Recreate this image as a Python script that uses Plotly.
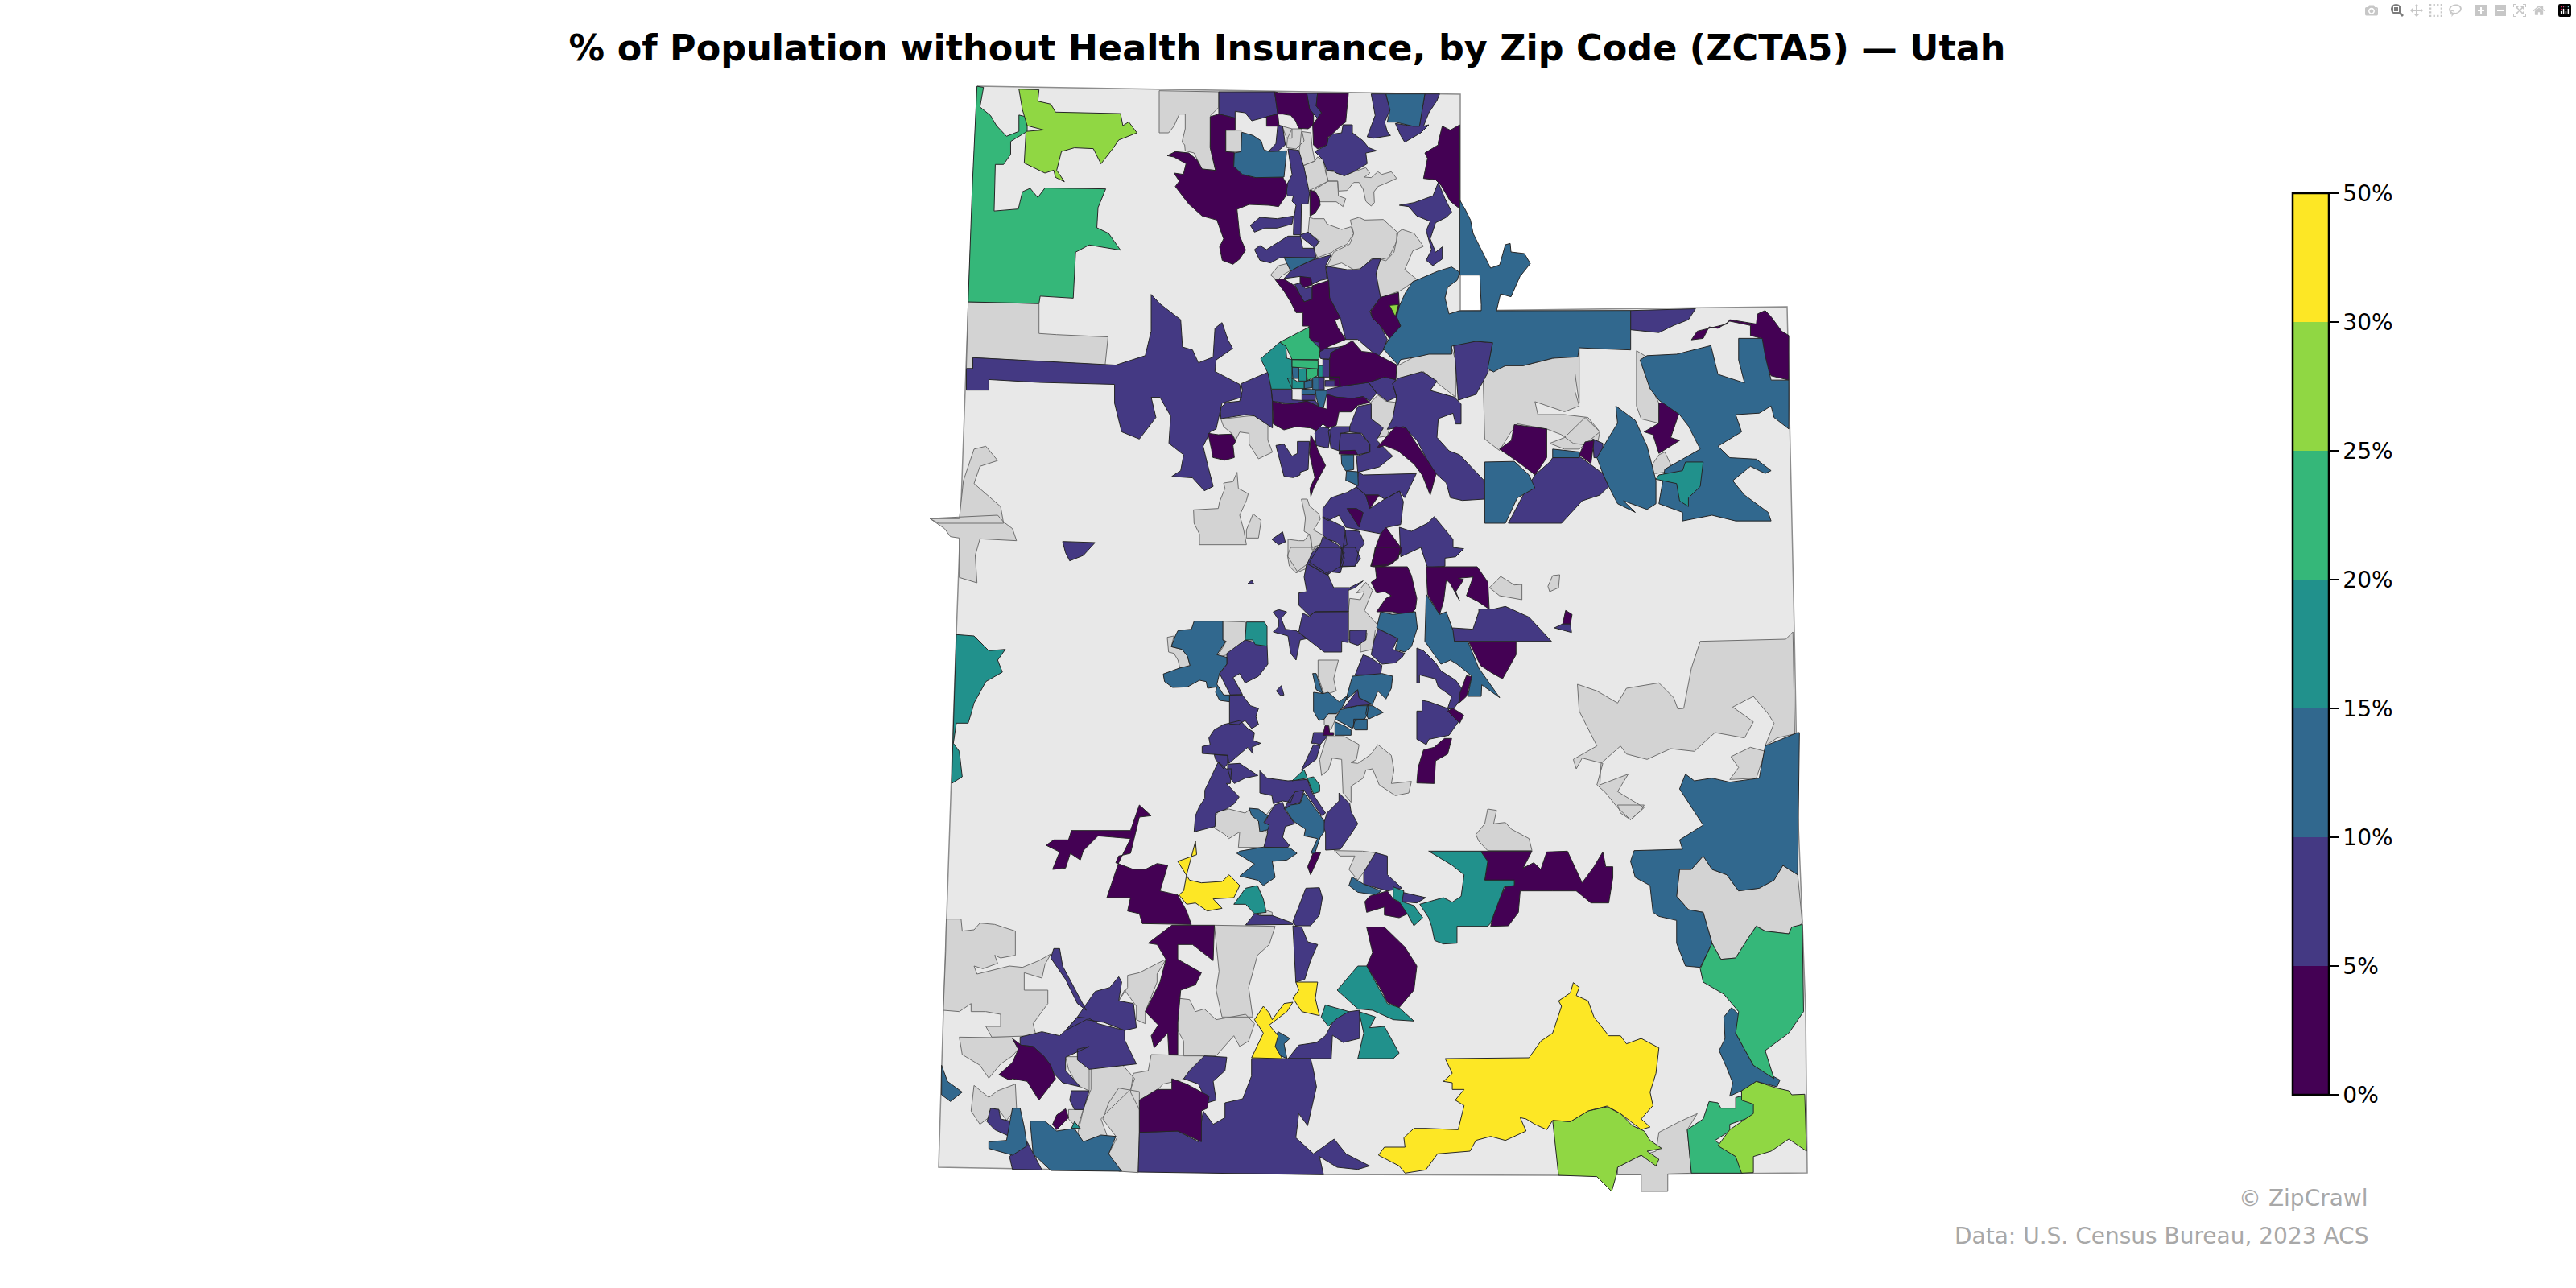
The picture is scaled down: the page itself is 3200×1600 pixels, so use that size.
import plotly.graph_objects as go

# class bands, tick labels and colours of the legend
band_labels = ["0%", "5%", "10%", "15%", "20%", "25%", "30%", "50%"]
band_colors = ["#440154", "#443983", "#31688e", "#21918c", "#35b779", "#90d743", "#fde725"]
NO_DATA = -1

title_text = "% of Population without Health Insurance, by Zip Code (ZCTA5) — Utah"
credit_text = "© ZipCrawl"
source_text = "Data: U.S. Census Bureau, 2023 ACS"

# state boundary, in map units
state_outline = [(1214, 107), (1814, 117), (1814, 386), (2220, 381), (2229, 785), (2233, 1000), (2239, 1147),
                 (2243, 1257), (2245, 1457), (1936, 1460), (1643, 1459), (1166, 1450), (1172, 1255), (1188, 788),
                 (1203, 375)]

# zones, sheet by sheet: (band, outline)
north_zones = [
    (4, [(155, 48), (166, 52), (160, 120), (178, 150), (188, 185), (205, 222), (226, 205), (226, 148), (240, 155), (240, 205), (212, 240), (212, 285), (200, 320), (186, 320), (184, 482), (225, 475), (232, 415), (245, 403), (258, 435), (270, 402), (373, 405), (360, 470), (358, 540), (378, 560), (398, 618), (345, 600), (322, 625), (318, 785), (262, 778), (260, 804), (140, 798), (147, 400)]),
    (5, [(226, 58), (260, 60), (258, 100), (280, 110), (288, 138), (398, 143), (402, 185), (412, 172), (426, 210), (395, 235), (385, 265), (365, 318), (352, 265), (320, 262), (298, 275), (290, 340), (303, 380), (288, 365), (285, 340), (270, 350), (235, 315), (238, 205), (268, 200), (240, 185), (232, 130)]),
    (NO_DATA, [(140, 798), (260, 804), (260, 908), (290, 912), (377, 920), (372, 1018), (148, 992), (148, 1030), (137, 1030)]),
    (1, [(1262, 828), (1372, 822), (1360, 860), (1335, 880), (1310, 905), (1262, 895)]),
    (0, [(1477, 840), (1490, 828), (1500, 850), (1518, 900), (1530, 915), (1530, 1070), (1500, 1055), (1485, 980), (1484, 925), (1465, 915), (1465, 880), (1430, 865), (1410, 890), (1395, 885), (1385, 925), (1365, 930), (1375, 900), (1425, 875), (1430, 860), (1475, 875)]),
    (2, [(1445, 925), (1485, 925), (1490, 985), (1500, 1070), (1530, 1070), (1530, 1240), (1505, 1200), (1500, 1160), (1480, 1185), (1440, 1190), (1450, 1250), (1410, 1300), (1430, 1340), (1475, 1345), (1500, 1385), (1490, 1395), (1465, 1370), (1435, 1420), (1455, 1470), (1495, 1530), (1500, 1560), (1440, 1560), (1400, 1540), (1350, 1560), (1350, 1530), (1310, 1500), (1320, 1380), (1380, 1310), (1360, 1230), (1345, 1190), (1310, 1140), (1295, 1100), (1278, 1000), (1290, 985), (1340, 980), (1398, 950), (1410, 1050), (1455, 1080), (1445, 1000)]),
    (NO_DATA, [(1012, 1045), (1050, 1020), (1080, 1020), (1130, 995), (1175, 958), (1175, 1150), (1168, 1050), (1168, 1110), (1175, 1160), (1150, 1180), (1100, 1145), (1105, 1190), (1150, 1190), (1190, 1200), (1210, 1250), (1205, 1300), (1165, 1290), (1145, 1260), (1120, 1240), (1070, 1222), (1058, 1255), (1040, 1315), (1015, 1275)]),
    (NO_DATA, [(1272, 968), (1290, 990), (1295, 1090), (1310, 1150), (1310, 1220), (1280, 1205), (1272, 1160)]),
    (1, [(962, 945), (1000, 935), (1028, 940), (1020, 1045), (1000, 1120), (970, 1140), (965, 1000)]),
    (1, [(137, 1105), (137, 1030), (148, 1030), (148, 992), (390, 1018), (440, 985), (450, 900), (450, 772), (465, 805), (500, 860), (503, 955), (520, 965), (530, 1010), (555, 990), (558, 890), (570, 870), (580, 930), (588, 960), (560, 1000), (558, 1040), (600, 1085), (603, 1130), (570, 1150), (565, 1200), (560, 1240), (550, 1250), (538, 1300), (545, 1360), (555, 1440), (540, 1455), (520, 1410), (485, 1405), (500, 1385), (505, 1330), (480, 1290), (483, 1195), (465, 1130), (450, 1130), (458, 1200), (430, 1275), (400, 1250), (388, 1150), (388, 1085), (260, 1078), (175, 1068), (175, 1105)]),
    (0, [(1065, 1225), (1120, 1240), (1120, 1340), (1100, 1400), (1075, 1360), (1040, 1310), (1060, 1280)]),
    (1, [(1130, 1340), (1175, 1335), (1215, 1395), (1225, 1440), (1210, 1470), (1180, 1490), (1145, 1568), (1055, 1568), (1080, 1470), (1100, 1400), (1125, 1355)]),
    (2, [(1015, 1355), (1065, 1353), (1090, 1400), (1100, 1445), (1070, 1480), (1050, 1568), (1015, 1568)]),
    (2, [(1237, 1160), (1270, 1210), (1290, 1300), (1305, 1420), (1305, 1500), (1290, 1520), (1250, 1490), (1270, 1530), (1240, 1500), (1225, 1440), (1215, 1395), (1205, 1340), (1225, 1270), (1240, 1220)]),
    (0, [(1310, 1150), (1330, 1145), (1345, 1180), (1330, 1270), (1345, 1280), (1310, 1325), (1300, 1260), (1285, 1250), (1310, 1220)]),
    (NO_DATA, [(1125, 1290), (1150, 1270), (1185, 1200), (1210, 1250), (1175, 1310), (1150, 1310)]),
    (2, [(1130, 1310), (1175, 1320), (1175, 1340), (1130, 1340)]),
    (0, [(1185, 1285), (1200, 1280), (1195, 1360), (1175, 1330)]),
    (1, [(1198, 1275), (1215, 1290), (1215, 1340), (1200, 1340)]),
    (NO_DATA, [(1290, 1390), (1310, 1330), (1320, 1320), (1335, 1385), (1305, 1395)]),
    (3, [(1355, 1355), (1385, 1355), (1380, 1440), (1360, 1480), (1360, 1510), (1345, 1490), (1340, 1430), (1305, 1415), (1310, 1400), (1350, 1385)]),
    (NO_DATA, [(75, 1552), (125, 1552), (132, 1420), (150, 1310), (170, 1300), (190, 1350), (160, 1370), (150, 1430), (195, 1510), (200, 1568), (90, 1568)]),
]

ogden_zones = [
    (NO_DATA, [(0, 38), (222, 42), (222, 100), (192, 130), (190, 250), (210, 335), (160, 330), (130, 270), (97, 262), (95, 240), (85, 230), (97, 180), (97, 125), (75, 125), (55, 170), (35, 195), (0, 195)]),
    (1, [(222, 42), (430, 42), (442, 125), (400, 135), (345, 150), (320, 120), (283, 115), (283, 140), (222, 125)]),
    (0, [(190, 135), (222, 125), (283, 140), (283, 185), (248, 185), (248, 265), (280, 268), (278, 320), (310, 350), (360, 362), (460, 360), (478, 390), (472, 430), (445, 470), (410, 465), (335, 462), (290, 480), (300, 580), (322, 632), (300, 665), (275, 685), (235, 670), (225, 620), (240, 590), (215, 520), (160, 505), (110, 460), (60, 395), (75, 375), (55, 345), (90, 350), (100, 310), (55, 285), (30, 280), (60, 265), (110, 270), (140, 295), (160, 330), (210, 335), (190, 250)]),
    (NO_DATA, [(248, 185), (305, 185), (305, 265), (248, 265)]),
    (2, [(308, 193), (350, 205), (380, 225), (390, 258), (410, 265), (475, 262), (465, 360), (360, 362), (310, 350), (278, 320), (280, 270), (305, 265)]),
    (0, [(400, 135), (442, 125), (447, 170), (400, 170)]),
    (0, [(430, 42), (445, 45), (550, 48), (560, 105), (575, 125), (575, 165), (555, 180), (520, 178), (508, 150), (490, 130), (460, 125), (442, 125)]),
    (1, [(550, 48), (590, 48), (585, 95), (605, 120), (590, 140), (575, 125), (560, 105)]),
    (0, [(590, 48), (705, 48), (695, 155), (680, 165), (640, 205), (630, 210), (625, 240), (590, 255), (575, 240), (572, 165), (590, 140), (605, 120), (585, 95)]),
    (1, [(442, 165), (460, 170), (470, 240), (440, 265), (410, 262), (435, 235)]),
    (NO_DATA, [(458, 170), (495, 180), (495, 215), (475, 215)]),
    (NO_DATA, [(495, 180), (530, 180), (540, 225), (510, 255), (475, 250), (478, 215)]),
    (NO_DATA, [(530, 190), (565, 195), (570, 250), (580, 300), (535, 318), (518, 285), (525, 240)]),
    (NO_DATA, [(535, 318), (580, 300), (590, 285), (610, 295), (620, 335), (630, 375), (550, 415), (540, 360)]),
    (NO_DATA, [(582, 405), (630, 375), (665, 375), (668, 430), (695, 440), (685, 470), (660, 452), (600, 452), (575, 410)]),
    (NO_DATA, [(618, 335), (650, 340), (690, 355), (725, 340), (770, 325), (785, 345), (765, 360), (790, 362), (815, 340), (830, 350), (865, 340), (885, 365), (840, 385), (815, 395), (800, 415), (802, 455), (790, 468), (770, 450), (760, 405), (745, 380), (725, 380), (700, 410), (668, 412), (665, 375), (630, 375)]),
    (1, [(685, 165), (720, 165), (720, 195), (760, 225), (780, 250), (810, 262), (770, 270), (775, 310), (725, 340), (690, 355), (660, 345), (650, 335), (625, 335), (610, 295), (580, 265), (625, 240), (630, 215), (645, 200), (680, 195)]),
    (NO_DATA, [(645, 278), (668, 275), (665, 335), (645, 320)]),
    (1, [(790, 50), (845, 50), (860, 110), (840, 155), (850, 190), (862, 205), (800, 215), (775, 210), (805, 130)]),
    (2, [(845, 50), (990, 50), (970, 170), (945, 170), (880, 155), (850, 155), (860, 110)]),
    (1, [(990, 50), (1045, 50), (1035, 75), (1005, 120), (985, 170), (1005, 165), (975, 195), (915, 230), (900, 205), (880, 160), (945, 170), (970, 170)]),
    (0, [(1120, 165), (1120, 478), (1085, 450), (1050, 390), (1030, 370), (985, 365), (1000, 290), (990, 270), (1040, 240), (1040, 230), (1055, 170), (1085, 185)]),
    (1, [(1040, 380), (1065, 440), (1090, 490), (1070, 510), (1030, 530), (1010, 590), (1030, 640), (1055, 620), (1055, 665), (1020, 690), (995, 670), (1015, 630), (995, 560), (1010, 525), (960, 505), (930, 470), (895, 465), (950, 455), (1020, 430)]),
    (1, [(480, 255), (520, 260), (540, 325), (560, 420), (555, 460), (530, 460), (528, 575), (555, 565), (595, 600), (578, 625), (535, 625), (525, 575), (500, 575), (502, 510), (510, 465), (495, 450), (500, 430), (478, 430), (470, 400), (495, 350), (490, 320)]),
    (1, [(400, 630), (375, 615), (355, 630), (375, 670), (415, 680), (450, 660), (465, 660), (585, 660), (575, 620), (525, 580), (480, 580)]),
    (0, [(562, 408), (582, 415), (597, 440), (600, 465), (580, 495), (562, 505)]),
    (1, [(340, 540), (375, 510), (440, 515), (500, 505), (495, 535), (440, 550), (395, 550), (355, 565)]),
    (NO_DATA, [(560, 510), (575, 515), (615, 515), (625, 535), (680, 555), (715, 545), (725, 570), (700, 610), (655, 630), (645, 640), (590, 660), (575, 625), (600, 600), (555, 565)]),
    (NO_DATA, [(712, 520), (745, 510), (765, 520), (835, 518), (890, 568), (875, 640), (845, 672), (820, 665), (790, 665), (755, 700), (725, 705), (680, 680), (625, 695), (650, 640), (710, 610), (725, 570)]),
    (NO_DATA, [(885, 570), (905, 555), (950, 570), (985, 618), (945, 635), (915, 705), (965, 745), (945, 750), (920, 770), (895, 785), (880, 790), (825, 810), (805, 720), (820, 668), (855, 660), (885, 600)]),
    (2, [(465, 658), (585, 662), (525, 690), (490, 710), (475, 680)]),
    (NO_DATA, [(415, 725), (445, 690), (485, 680), (490, 708), (460, 725), (440, 745)]),
    (1, [(465, 738), (490, 710), (525, 690), (575, 668), (640, 650), (620, 690), (625, 740), (600, 745), (565, 762), (530, 735), (525, 730)]),
    (0, [(525, 730), (565, 735), (570, 762), (540, 770), (525, 755)]),
    (0, [(432, 742), (465, 740), (505, 765), (520, 790), (540, 825), (570, 815), (570, 765), (632, 745), (635, 810), (675, 885), (655, 893), (665, 920), (695, 965), (635, 990), (600, 1010), (595, 975), (558, 968), (558, 915), (535, 915), (535, 865), (510, 865), (490, 825), (465, 785)]),
    (1, [(505, 760), (525, 755), (545, 775), (570, 770), (570, 815), (540, 825), (520, 790)]),
    (1, [(622, 692), (700, 705), (745, 705), (795, 665), (825, 665), (808, 720), (825, 810), (785, 860), (795, 885), (825, 915), (850, 965), (835, 1005), (815, 1030), (740, 965), (695, 965), (675, 885), (635, 810), (630, 745)]),
    (0, [(788, 860), (825, 808), (892, 790), (895, 840), (885, 880), (900, 915), (860, 965), (825, 915), (795, 885)]),
    (5, [(858, 838), (892, 835), (880, 880)]),
    (2, [(1120, 445), (1140, 480), (1160, 520), (1170, 570), (1195, 620), (1235, 699), (1269, 687), (1290, 612), (1308, 607), (1311, 639), (1361, 645), (1383, 682), (1344, 731), (1311, 806), (1272, 795), (1257, 858), (1757, 857), (1757, 1004), (1650, 1000), (1565, 996), (1560, 1030), (1466, 1035), (1356, 1063), (1290, 1063), (1246, 1086), (1224, 1074), (1243, 977), (1180, 972), (1090, 990), (1090, 1020), (1005, 1020), (960, 1030), (900, 1040), (890, 1060), (835, 1000), (855, 965), (900, 915), (885, 880), (895, 840), (918, 790), (945, 750), (1040, 710), (1090, 695), (1120, 715), (1110, 745), (1075, 770), (1065, 810), (1080, 870), (1118, 858), (1200, 858), (1200, 835), (1195, 725), (1120, 725)]),
    (NO_DATA, [(885, 1065), (950, 1030), (1015, 1015), (1090, 995), (1105, 1045), (1105, 1180), (1040, 1130), (985, 1085), (965, 1115), (915, 1105), (885, 1110)]),
]

salt_lake_zones = [
    (4, [(330, 285), (440, 228), (440, 270), (480, 310), (475, 350), (375, 350), (352, 300)]),
    (3, [(258, 347), (330, 285), (352, 300), (355, 345), (375, 350), (375, 460), (298, 460), (285, 400)]),
    (4, [(375, 350), (472, 352), (472, 385), (375, 378)]),
    (2, [(375, 378), (400, 378), (400, 420), (378, 420)]),
    (3, [(400, 385), (428, 385), (428, 430), (400, 430)]),
    (4, [(428, 385), (470, 385), (470, 410), (432, 428)]),
    (3, [(472, 372), (490, 372), (490, 415), (472, 415)]),
    (3, [(358, 420), (372, 418), (395, 432), (420, 432), (420, 458), (375, 458)]),
    (2, [(420, 432), (450, 425), (450, 455), (420, 458)]),
    (2, [(452, 415), (475, 415), (475, 462), (452, 462)]),
    (1, [(475, 415), (495, 415), (495, 462), (475, 462)]),
    (1, [(490, 348), (515, 350), (515, 415), (490, 415)]),
    (2, [(412, 460), (460, 462), (462, 480), (412, 480)]),
    (1, [(412, 480), (462, 482), (462, 502), (412, 502)]),
    (2, [(462, 465), (505, 465), (505, 475), (492, 530), (475, 525), (465, 490)]),
    (1, [(498, 428), (535, 428), (535, 450), (498, 450)]),
    (0, [(515, 415), (552, 415), (552, 450), (535, 450), (535, 425), (515, 425)]),
    (1, [(438, 228), (480, 235), (478, 278), (490, 305), (470, 312), (445, 280)]),
    (0, [(515, 350), (520, 325), (565, 300), (600, 280), (635, 320), (640, 320), (680, 325), (730, 350), (765, 370), (762, 425), (720, 415), (660, 435), (555, 450), (552, 415), (515, 415)]),
    (1, [(475, 310), (540, 305), (565, 300), (520, 325), (515, 348), (490, 348), (480, 345)]),
    (1, [(290, 395), (298, 460), (302, 505), (302, 605), (235, 560), (205, 555), (110, 570), (108, 530), (130, 510), (180, 505), (190, 465), (185, 440)]),
    (1, [(298, 462), (375, 462), (375, 500), (412, 502), (462, 502), (475, 525), (430, 505), (375, 515), (340, 510), (302, 505)]),
    (0, [(302, 505), (340, 515), (375, 515), (430, 505), (475, 525), (492, 530), (505, 535), (505, 480), (540, 490), (600, 495), (640, 488), (665, 510), (620, 520), (595, 545), (550, 545), (540, 595), (510, 605), (490, 590), (465, 615), (445, 605), (390, 600), (345, 612), (305, 590)]),
    (1, [(505, 462), (555, 450), (660, 435), (690, 475), (665, 505), (640, 488), (600, 495), (540, 490), (505, 480)]),
    (1, [(660, 435), (720, 415), (762, 425), (750, 440), (765, 490), (730, 505), (690, 475)]),
    (NO_DATA, [(668, 510), (695, 482), (725, 505), (765, 510), (750, 570), (730, 635), (695, 640), (672, 600)]),
    (1, [(770, 420), (860, 395), (915, 430), (890, 465), (980, 490), (1005, 515), (1005, 590), (985, 590), (975, 550), (920, 570), (915, 640), (960, 690), (1000, 705), (1090, 800), (1092, 870), (1010, 875), (965, 865), (950, 810), (900, 765), (840, 650), (790, 600), (730, 610), (750, 570), (765, 490), (750, 440)]),
    (0, [(690, 680), (760, 600), (800, 605), (850, 680), (912, 775), (890, 855), (860, 780), (830, 740), (770, 690), (720, 670)]),
    (1, [(620, 525), (670, 515), (670, 570), (715, 605), (690, 650), (750, 710), (700, 750), (620, 770), (615, 710), (665, 695), (665, 665), (635, 625), (590, 620), (590, 600)]),
    (1, [(530, 600), (590, 600), (590, 620), (555, 625), (550, 690), (520, 680), (510, 615)]),
    (1, [(470, 600), (510, 605), (520, 620), (510, 680), (465, 670), (460, 625)]),
    (1, [(555, 625), (630, 625), (665, 665), (665, 695), (620, 705), (550, 690)]),
    (0, [(552, 690), (610, 688), (620, 705), (550, 702)]),
    (2, [(558, 705), (605, 705), (605, 760), (575, 765), (560, 740)]),
    (2, [(578, 765), (620, 768), (622, 820), (590, 805), (575, 800)]),
    (1, [(622, 770), (640, 780), (838, 775), (795, 865), (775, 840), (720, 870), (695, 855), (650, 855), (615, 825)]),
    (0, [(650, 855), (700, 855), (665, 905)]),
    (1, [(520, 865), (580, 845), (615, 825), (650, 855), (665, 905), (720, 870), (775, 840), (790, 880), (780, 965), (730, 975), (710, 1000), (625, 985), (575, 975), (550, 930), (510, 950), (490, 940), (490, 905)]),
    (0, [(580, 905), (615, 905), (640, 920), (625, 975)]),
    (1, [(905, 935), (945, 985), (975, 1020), (975, 1050), (1015, 1055), (985, 1085), (945, 1090), (945, 1120), (880, 1125), (855, 1050), (780, 1085), (775, 975), (820, 990), (880, 960)]),
    (0, [(725, 975), (780, 1050), (770, 1095), (725, 1115), (670, 1120), (690, 1040), (705, 1000)]),
    (1, [(490, 935), (570, 975), (580, 1040), (560, 1050), (540, 1030), (510, 1020), (490, 1005)]),
    (1, [(490, 1010), (510, 1020), (545, 1040), (570, 1070), (555, 1120), (510, 1150), (440, 1105), (480, 1040)]),
    (1, [(575, 985), (625, 990), (645, 1035), (625, 1060), (610, 1120), (555, 1120)]),
    (NO_DATA, [(360, 1020), (400, 1025), (420, 1025), (440, 1000), (450, 1050), (480, 1040), (440, 1105), (395, 1140), (360, 1085)]),
    (NO_DATA, [(410, 870), (432, 870), (440, 895), (475, 925), (480, 945), (455, 985), (510, 1015), (450, 1060), (445, 1005), (420, 990), (425, 940)]),
    (NO_DATA, [(8, 910), (100, 905), (105, 880), (125, 830), (120, 810), (155, 805), (170, 770), (175, 830), (212, 850), (205, 875), (180, 930), (195, 985), (205, 1040), (30, 1040), (30, 1000), (10, 960)]),
    (NO_DATA, [(205, 985), (230, 925), (260, 950), (250, 1015), (205, 1015)]),
    (1, [(300, 1020), (340, 992), (350, 1030), (325, 1040)]),
    (1, [(315, 670), (345, 665), (375, 710), (395, 700), (395, 655), (440, 655), (435, 760), (405, 770), (405, 780), (380, 790), (345, 785), (330, 730)]),
    (0, [(445, 630), (465, 670), (472, 690), (500, 745), (470, 800), (455, 830), (445, 860), (442, 830), (460, 790), (445, 720), (440, 700)]),
    (0, [(62, 625), (100, 630), (150, 628), (165, 655), (155, 670), (160, 715), (125, 725), (80, 715), (75, 685)]),
    (NO_DATA, [(110, 572), (215, 560), (235, 560), (285, 590), (285, 650), (302, 695), (250, 720), (215, 665), (215, 625), (180, 620), (165, 650), (150, 625), (120, 600)]),
]

sevier_zones = [
    (1, [(670, 60), (750, 105), (770, 150), (830, 150), (880, 125), (850, 150), (825, 160), (825, 240), (700, 240), (680, 255), (660, 235), (640, 215), (640, 170), (670, 165), (660, 110)]),
    (1, [(700, 240), (825, 238), (825, 355), (800, 350), (800, 390), (735, 390), (670, 340), (640, 315), (655, 245), (680, 258)]),
    (1, [(545, 240), (565, 232), (595, 240), (575, 265), (590, 305), (630, 310), (670, 340), (645, 345), (630, 420), (610, 395), (600, 330), (545, 315), (565, 295), (565, 270)]),
    (1, [(710, 0), (800, 0), (810, 40), (795, 95), (750, 90), (750, 105), (672, 60), (690, 20)]),
    (1, [(800, 0), (850, 0), (870, 40), (850, 70), (795, 72)]),
    (NO_DATA, [(610, 0), (700, 0), (665, 80), (630, 95), (605, 70), (598, 30)]),
    (0, [(925, 0), (1025, 0), (1020, 20), (990, 60), (965, 70), (920, 72), (908, 70), (920, 30)]),
    (0, [(925, 72), (1045, 72), (1060, 105), (1080, 190), (1075, 230), (1050, 255), (990, 240), (930, 240), (965, 190), (985, 180), (960, 165), (930, 170), (910, 130), (930, 115)]),
    (NO_DATA, [(830, 190), (870, 195), (885, 165), (855, 170), (890, 130), (915, 160), (905, 185), (885, 235), (935, 290), (945, 295), (925, 310), (915, 380), (870, 390), (870, 350), (890, 345), (895, 320), (825, 345), (825, 240)]),
    (1, [(830, 310), (892, 308), (890, 345), (860, 365), (830, 355)]),
    (2, [(945, 240), (990, 250), (1075, 240), (1082, 300), (1060, 370), (1035, 390), (1000, 380), (1010, 340), (930, 300)]),
    (1, [(935, 305), (1010, 335), (990, 380), (1035, 395), (1025, 410), (1000, 430), (950, 435), (910, 400), (920, 350)]),
    (1, [(880, 400), (905, 410), (950, 440), (945, 475), (850, 475)]),
    (2, [(840, 480), (950, 470), (990, 480), (985, 525), (965, 565), (935, 535), (915, 585), (865, 560), (860, 530), (815, 570)]),
    (2, [(915, 590), (955, 615), (900, 640), (890, 620), (895, 590)]),
    (2, [(695, 540), (730, 545), (750, 540), (790, 575), (825, 550), (800, 600), (780, 620), (750, 620), (735, 640), (715, 645), (695, 610)]),
    (2, [(692, 470), (705, 470), (730, 545), (705, 530)]),
    (NO_DATA, [(712, 420), (788, 420), (770, 490), (780, 535), (735, 550), (712, 480)]),
    (1, [(815, 590), (860, 530), (865, 560), (915, 585), (860, 590), (800, 600)]),
    (2, [(795, 605), (860, 590), (900, 590), (895, 625), (885, 640), (850, 645), (840, 675), (815, 660), (775, 640)]),
    (2, [(845, 640), (895, 640), (895, 680), (850, 680), (845, 670)]),
    (2, [(775, 650), (810, 665), (835, 680), (835, 700), (775, 700)]),
    (NO_DATA, [(735, 625), (750, 620), (785, 620), (760, 680), (735, 660)]),
    (0, [(738, 665), (752, 665), (755, 690), (770, 690), (770, 700), (730, 700)]),
    (1, [(695, 690), (732, 690), (745, 705), (720, 735), (700, 730), (688, 730)]),
    (1, [(695, 735), (720, 740), (705, 790), (670, 815), (650, 830)]),
    (3, [(615, 870), (660, 828), (672, 860), (695, 855), (718, 885), (718, 910), (695, 918), (672, 860)]),
    (1, [(495, 832), (522, 860), (600, 870), (672, 865), (690, 915), (740, 990), (725, 1000), (660, 905), (625, 910), (610, 950), (580, 945), (545, 955), (540, 925), (495, 915)]),
    (2, [(660, 915), (735, 1020), (735, 1060), (720, 1080), (700, 1140), (685, 1140), (710, 1085), (660, 1075), (665, 1050), (620, 1020), (590, 975), (610, 960), (645, 955)]),
    (1, [(628, 910), (660, 905), (645, 950), (610, 962), (585, 975), (605, 940)]),
    (1, [(790, 915), (830, 955), (835, 985), (860, 1030), (830, 1075), (795, 1125), (740, 1128), (740, 1060), (730, 1040), (745, 990), (790, 945)]),
    (1, [(550, 960), (580, 950), (590, 980), (625, 1030), (590, 1040), (580, 1080), (605, 1110), (600, 1118), (510, 1118), (525, 1060), (510, 1030)]),
    (2, [(455, 972), (490, 975), (525, 1000), (510, 1025), (530, 1035), (525, 1052), (495, 1060), (490, 1020), (465, 1000)]),
    (NO_DATA, [(340, 985), (380, 975), (440, 990), (460, 975), (500, 1020), (525, 1070), (510, 1118), (415, 1118), (420, 1060), (380, 1085), (365, 1070), (325, 1045), (330, 1000)]),
    (NO_DATA, [(545, 965), (555, 975), (530, 1000), (520, 995)]),
    (1, [(340, 800), (370, 825), (390, 825), (385, 880), (370, 880), (418, 930), (400, 955), (370, 975), (330, 990), (328, 1040), (250, 1060), (255, 1000), (270, 965), (290, 935), (290, 905)]),
    (1, [(375, 808), (420, 805), (488, 850), (440, 860), (400, 880), (385, 860), (375, 825)]),
    (1, [(325, 772), (375, 775), (375, 805), (360, 825), (330, 790)]),
    (1, [(360, 660), (422, 645), (450, 675), (475, 690), (470, 720), (498, 730), (465, 745), (470, 770), (450, 745), (380, 805), (375, 775), (280, 768), (280, 742), (310, 735), (305, 710), (325, 680)]),
    (1, [(382, 550), (430, 550), (460, 590), (490, 600), (480, 630), (490, 660), (465, 675), (440, 645), (415, 660), (382, 658)]),
    (1, [(372, 395), (440, 345), (522, 365), (525, 435), (490, 480), (440, 505), (420, 470), (395, 485), (415, 520), (430, 548), (385, 550), (345, 470), (372, 435)]),
    (3, [(445, 278), (512, 278), (522, 295), (522, 368), (478, 362), (468, 345), (440, 345)]),
    (NO_DATA, [(357, 275), (442, 278), (440, 345), (415, 385), (405, 418), (395, 395), (335, 410), (370, 350), (357, 345)]),
    (2, [(250, 275), (357, 275), (357, 345), (368, 350), (335, 400), (372, 410), (372, 435), (345, 468), (335, 510), (360, 550), (382, 550), (382, 575), (345, 570), (330, 540), (335, 520), (300, 525), (295, 500), (270, 495), (225, 520), (190, 522), (170, 522), (140, 500), (135, 472), (195, 450), (235, 440), (225, 405), (205, 380), (165, 370), (180, 330), (190, 310), (240, 305)]),
    (NO_DATA, [(150, 335), (175, 330), (165, 370), (205, 380), (225, 405), (235, 440), (225, 462), (200, 462), (190, 420), (175, 395), (155, 390)]),
    (1, [(556, 535), (575, 515), (585, 550), (572, 552)]),
    (1, [(1080, 375), (1105, 385), (1150, 430), (1170, 460), (1225, 495), (1250, 530), (1240, 570), (1215, 605), (1195, 600), (1210, 555), (1160, 520), (1150, 490), (1090, 475), (1090, 505), (1080, 505)]),
    (0, [(1265, 478), (1285, 482), (1265, 555), (1240, 578), (1240, 545)]),
    (1, [(1100, 570), (1125, 575), (1195, 600), (1235, 650), (1200, 700), (1125, 715), (1115, 735), (1080, 715), (1080, 610), (1100, 610)]),
    (0, [(1195, 610), (1215, 600), (1255, 625), (1240, 655)]),
    (0, [(1183, 712), (1210, 712), (1195, 770), (1150, 795), (1145, 880), (1080, 878), (1085, 820), (1105, 755), (1145, 745)]),
    (1, [(450, 135), (465, 122), (472, 135)]),
    (NO_DATA, [(745, 705), (810, 705), (865, 735), (855, 790), (835, 802), (860, 805), (890, 785), (910, 770), (935, 735), (985, 775), (995, 830), (985, 880), (1060, 872), (1050, 915), (1000, 925), (940, 885), (915, 825), (890, 830), (880, 860), (835, 890), (835, 950), (805, 915), (800, 790), (765, 785), (750, 830), (725, 850), (718, 790)]),
    (2, [(1115, 175), (1165, 250), (1190, 240), (1215, 310), (1220, 350), (1270, 350), (1311, 450), (1389, 560), (1322, 512), (1320, 555), (1270, 555), (1285, 480), (1230, 435), (1205, 420), (1170, 435), (1110, 350)]),
    (0, [(1115, 72), (1305, 72), (1345, 130), (1350, 230), (1305, 200), (1265, 180), (1290, 110), (1235, 115), (1255, 120), (1225, 165), (1240, 200), (1205, 135), (1190, 120), (1180, 200), (1165, 250), (1120, 175)]),
]

middle_zones = [
    (NO_DATA, [(75, 12), (190, 0), (200, 25), (215, 50), (222, 95), (160, 88), (152, 150), (155, 252), (125, 232), (125, 85), (110, 80), (100, 50)]),
    (1, [(300, 98), (355, 102), (335, 150), (312, 170), (305, 140)]),
    (1, [(1005, 350), (1030, 350), (1050, 340), (1090, 380), (1128, 470), (963, 470), (960, 420), (995, 425), (1005, 360)]),
    (0, [(988, 472), (1068, 472), (1068, 520), (1045, 610), (1025, 585), (1008, 560)]),
    (NO_DATA, [(1023, 270), (1042, 228), (1065, 260), (1078, 258), (1078, 315), (1040, 300)]),
    (NO_DATA, [(1130, 225), (1142, 222), (1140, 270), (1125, 285), (1122, 265)]),
    (0, [(1152, 355), (1163, 370), (1160, 405), (1147, 405)]),
    (1, [(1147, 405), (1160, 405), (1162, 437), (1133, 420)]),
    (3, [(120, 445), (150, 450), (175, 505), (203, 500), (190, 540), (198, 585), (170, 620), (150, 700), (145, 740), (140, 775), (120, 775), (115, 850), (125, 880), (130, 975), (112, 1000)]),
    (NO_DATA, [(1172, 630), (1205, 655), (1240, 700), (1255, 645), (1310, 625), (1335, 680), (1342, 722), (1352, 720), (1365, 570), (1380, 470), (1525, 462), (1537, 435), (1540, 815), (1510, 830), (1490, 860), (1505, 775), (1495, 740), (1470, 675), (1435, 715), (1470, 770), (1455, 830), (1405, 810), (1370, 880), (1330, 870), (1290, 910), (1255, 890), (1245, 860), (1212, 925), (1210, 1005), (1258, 965), (1240, 1030), (1285, 1090), (1262, 1135), (1240, 1090), (1220, 1035), (1205, 1005), (1215, 925), (1180, 905), (1170, 945), (1165, 910), (1205, 860), (1175, 730)]),
    (NO_DATA, [(1432, 900), (1465, 865), (1490, 880), (1475, 980), (1430, 985), (1445, 940)]),
]

south_zones = [
    (0, [(430, 0), (450, 40), (430, 45), (415, 180), (395, 190), (390, 215), (420, 240), (440, 240), (460, 218), (478, 225), (465, 320), (495, 335), (510, 395), (518, 445), (435, 442), (430, 405), (410, 395), (415, 345), (375, 345), (395, 215), (415, 125), (360, 115), (335, 170), (330, 205), (313, 180), (305, 235), (283, 240), (295, 175), (272, 150), (285, 130), (310, 130), (315, 95), (415, 95)]),
    (6, [(525, 135), (527, 185), (495, 210), (515, 280), (535, 290), (570, 285), (582, 260), (600, 300), (590, 345), (555, 350), (570, 385), (545, 395), (525, 365), (510, 370), (497, 335), (505, 320), (510, 260)]),
    (2, [(600, 172), (640, 157), (685, 160), (697, 180), (680, 205), (655, 210), (660, 270), (640, 300), (630, 280), (600, 265), (625, 220), (595, 180)]),
    (3, [(630, 300), (640, 350), (645, 400), (625, 405), (610, 370), (590, 370), (610, 310)]),
    (0, [(725, 175), (737, 178), (720, 260), (715, 230)]),
    (NO_DATA, [(635, 385), (655, 400), (655, 412), (635, 412)]),
    (1, [(625, 405), (635, 412), (655, 412), (690, 440), (690, 445), (610, 447)]),
    (1, [(712, 310), (735, 308), (740, 345), (735, 410), (720, 450), (695, 450), (690, 435), (700, 380)]),
    (NO_DATA, [(760, 170), (808, 172), (830, 178), (830, 240), (810, 250), (800, 280), (785, 240), (795, 190), (770, 190)]),
    (1, [(830, 178), (850, 190), (850, 260), (875, 310), (850, 320), (810, 295), (810, 250)]),
    (2, [(790, 268), (810, 295), (840, 320), (830, 335), (800, 325), (785, 300)]),
    (3, [(860, 305), (878, 320), (875, 360), (895, 375), (910, 420), (895, 450), (885, 410), (870, 360), (860, 350)]),
    (1, [(875, 325), (915, 345), (900, 365), (875, 360)]),
    (0, [(820, 340), (850, 320), (860, 350), (880, 375), (890, 400), (870, 420), (845, 410), (845, 380), (815, 400), (812, 360)]),
    (3, [(920, 172), (1008, 172), (1020, 210), (1015, 280), (1065, 280), (1065, 300), (1048, 305), (1025, 440), (1020, 452), (968, 452), (968, 515), (945, 518), (930, 505), (925, 452), (920, 420), (905, 370), (945, 345), (960, 362), (975, 340), (980, 260), (960, 225)]),
    (0, [(1008, 172), (1095, 172), (1080, 235), (1098, 215), (1110, 240), (1120, 175), (1155, 172), (1170, 240), (1180, 290), (1200, 230), (1215, 175), (1220, 230), (1232, 230), (1232, 270), (1225, 365), (1195, 365), (1170, 320), (1130, 320), (1075, 320), (1072, 400), (1055, 450), (1025, 452), (1035, 370), (1050, 305), (1065, 295), (1065, 280), (1015, 280), (1020, 210)]),
    (NO_DATA, [(1020, 15), (1035, 20), (1030, 70), (1050, 65), (1060, 90), (1090, 125), (1095, 170), (1020, 170), (1005, 135), (1000, 110), (1015, 70)]),
    (NO_DATA, [(1240, 0), (1285, 0), (1280, 20), (1262, 55), (1245, 30)]),
    (2, [(1545, -270), (1490, -220), (1480, -100), (1430, -85), (1400, -100), (1370, -90), (1355, -115), (1345, -60), (1385, 75), (1345, 130), (1350, 165), (1268, 170), (1262, 210), (1270, 270), (1295, 300), (1300, 400), (1310, 415), (1340, 430), (1340, 515), (1355, 600), (1380, 605), (1400, 515), (1385, 400), (1360, 390), (1340, 340), (1345, 240), (1365, 240), (1385, 190), (1400, 240), (1425, 260), (1445, 320), (1480, 310), (1505, 280), (1520, 225), (1545, 260), (1548, -270)]),
    (NO_DATA, [(1385, 190), (1400, 240), (1425, 260), (1445, 320), (1480, 310), (1505, 280), (1520, 225), (1545, 260), (1553, 440), (1530, 480), (1490, 470), (1475, 450), (1460, 500), (1440, 570), (1415, 575), (1400, 515), (1385, 400), (1360, 390), (1340, 340), (1345, 240), (1365, 240)]),
    (4, [(1475, 452), (1490, 470), (1530, 480), (1535, 455), (1553, 445), (1555, 770), (1530, 850), (1490, 915), (1505, 1020), (1470, 970), (1460, 930), (1440, 850), (1445, 770), (1420, 705), (1385, 660), (1380, 610), (1400, 515), (1415, 575), (1440, 570), (1460, 500)]),
    (2, [(1433, 755), (1450, 790), (1440, 850), (1460, 930), (1470, 970), (1515, 1025), (1510, 1050), (1475, 1030), (1455, 1060), (1430, 1085), (1435, 1035), (1425, 980), (1412, 915), (1422, 870), (1420, 790)]),
    (5, [(1475, 1030), (1510, 1055), (1530, 1065), (1535, 1080), (1557, 1078), (1560, 1290), (1530, 1245), (1500, 1290), (1470, 1310), (1470, 1370), (1450, 1372), (1440, 1310), (1410, 1270), (1430, 1210), (1470, 1150), (1470, 1115), (1450, 1100), (1450, 1065)]),
    (4, [(1395, 1105), (1410, 1110), (1415, 1130), (1440, 1130), (1440, 1090), (1450, 1085), (1475, 1115), (1470, 1160), (1430, 1190), (1430, 1215), (1405, 1250), (1440, 1310), (1452, 1372), (1365, 1372), (1358, 1210), (1385, 1170)]),
    (NO_DATA, [(1375, 1150), (1358, 1210), (1365, 1372), (1325, 1375), (1325, 1440), (1280, 1440), (1280, 1378), (1240, 1378), (1240, 1350), (1275, 1310), (1305, 1290), (1310, 1220), (1345, 1180)]),
    (5, [(1130, 1175), (1160, 1180), (1190, 1140), (1222, 1125), (1245, 1150), (1265, 1195), (1285, 1215), (1295, 1250), (1315, 1280), (1290, 1290), (1310, 1320), (1305, 1345), (1280, 1305), (1240, 1350), (1238, 1378), (1230, 1440), (1205, 1385), (1140, 1380)]),
    (6, [(1165, 662), (1175, 680), (1170, 710), (1190, 730), (1200, 790), (1225, 860), (1245, 860), (1255, 890), (1280, 870), (1310, 905), (1305, 1000), (1295, 1070), (1300, 1120), (1280, 1170), (1295, 1200), (1280, 1210), (1245, 1150), (1222, 1122), (1190, 1140), (1160, 1180), (1130, 1175), (1120, 1210), (1100, 1190), (1085, 1170), (1075, 1165), (1085, 1215), (1050, 1250), (1025, 1235), (1000, 1250), (990, 1290), (935, 1300), (915, 1360), (880, 1372), (870, 1345), (835, 1305), (845, 1275), (880, 1275), (878, 1240), (895, 1205), (915, 1205), (970, 1210), (980, 1120), (965, 1100), (980, 1060), (960, 1060), (960, 1035), (945, 1030), (960, 1000), (948, 945), (1090, 942), (1110, 880), (1130, 850), (1145, 750), (1140, 730), (1160, 700)]),
    (0, [(815, 455), (845, 455), (880, 530), (900, 600), (895, 690), (870, 755), (850, 735), (840, 690), (815, 600), (825, 550)]),
    (3, [(800, 600), (815, 600), (850, 740), (870, 755), (895, 805), (860, 800), (825, 765), (800, 760), (765, 690)]),
    (3, [(802, 770), (830, 790), (820, 830), (845, 825), (870, 925), (860, 945), (800, 945), (810, 850)]),
    (3, [(745, 745), (785, 770), (765, 795), (750, 825), (738, 790)]),
    (1, [(770, 775), (803, 765), (803, 870), (775, 885), (757, 858), (755, 945), (682, 945), (700, 895), (730, 885), (745, 860), (760, 800)]),
    (6, [(695, 660), (732, 660), (728, 720), (735, 785), (705, 770), (690, 720), (700, 690)]),
    (6, [(640, 750), (650, 775), (655, 800), (675, 740), (690, 735), (680, 770), (650, 820), (665, 860), (660, 900), (672, 945), (620, 942), (640, 850), (625, 800)]),
    (2, [(665, 845), (685, 870), (675, 890), (680, 945), (665, 930), (655, 885)]),
    (1, [(690, 450), (705, 455), (715, 510), (732, 520), (720, 580), (710, 650), (695, 660)]),
    (0, [(485, 448), (557, 448), (555, 580), (520, 520), (495, 520), (495, 575), (535, 625), (525, 670), (500, 690), (495, 810), (495, 930), (480, 930), (478, 850), (455, 905), (450, 860), (462, 820), (440, 770), (465, 660), (475, 575), (460, 520), (445, 515)]),
    (NO_DATA, [(557, 448), (660, 452), (650, 520), (630, 560), (615, 680), (622, 790), (570, 790), (560, 690), (565, 620)]),
    (NO_DATA, [(495, 720), (515, 725), (525, 770), (540, 760), (560, 800), (610, 780), (625, 815), (615, 880), (600, 900), (590, 860), (560, 935), (505, 935), (505, 880), (495, 840)]),
    (NO_DATA, [(450, 930), (540, 935), (530, 970), (510, 1020), (470, 1040), (430, 1135), (415, 1070), (420, 1000), (445, 990)]),
    (NO_DATA, [(410, 635), (430, 625), (470, 580), (475, 575), (460, 630), (460, 660), (440, 770), (440, 815), (425, 800), (425, 750), (405, 690), (395, 730), (410, 680)]),
    (1, [(380, 680), (395, 640), (400, 660), (395, 730), (420, 740), (425, 830), (405, 840), (370, 810), (340, 800), (305, 840), (325, 790), (355, 695)]),
    (1, [(285, 535), (295, 535), (300, 600), (340, 765), (325, 740), (305, 650), (280, 570)]),
    (NO_DATA, [(103, 425), (128, 425), (130, 470), (150, 465), (160, 440), (185, 445), (220, 470), (220, 560), (195, 570), (185, 560), (190, 590), (165, 610), (150, 600), (155, 630), (210, 600), (232, 605), (260, 580), (280, 555), (270, 595), (265, 645), (235, 625), (235, 690), (275, 690), (275, 740), (250, 815), (255, 860), (180, 865), (170, 825), (195, 825), (195, 780), (170, 770), (145, 770), (145, 740), (125, 770), (98, 765), (102, 545)]),
    (NO_DATA, [(125, 865), (215, 868), (225, 910), (215, 935), (195, 965), (175, 1018), (160, 970), (130, 930)]),
    (0, [(215, 870), (230, 895), (250, 900), (268, 935), (280, 970), (288, 1020), (260, 1100), (240, 1030), (215, 1020), (210, 1025), (192, 1005), (215, 960), (225, 910)]),
    (1, [(228, 865), (265, 845), (295, 860), (305, 840), (325, 790), (345, 795), (360, 815), (405, 840), (405, 875), (425, 965), (345, 985), (325, 950), (325, 910), (345, 900), (305, 940), (305, 990), (330, 1050), (300, 1035), (285, 1000), (265, 935), (250, 900), (228, 895)]),
    (NO_DATA, [(305, 938), (325, 938), (345, 985), (345, 1065), (325, 1045), (310, 985)]),
    (NO_DATA, [(348, 980), (400, 965), (422, 1020), (415, 1060), (375, 1145), (365, 1170), (375, 1230), (335, 1255), (325, 1230), (335, 1135), (348, 1060)]),
    (NO_DATA, [(395, 1055), (430, 1068), (430, 1220), (428, 1370), (395, 1365), (378, 1300), (392, 1240), (368, 1170), (378, 1110)]),
    (1, [(315, 1065), (345, 1065), (335, 1135), (320, 1135), (312, 1100)]),
    (NO_DATA, [(150, 1045), (175, 1090), (190, 1065), (220, 1040), (222, 1130), (205, 1175), (190, 1130), (175, 1165), (160, 1190), (145, 1140)]),
    (2, [(95, 970), (105, 1030), (130, 1070), (110, 1105), (95, 1080)]),
    (1, [(178, 1130), (192, 1135), (195, 1170), (215, 1180), (210, 1235), (185, 1210), (172, 1180)]),
    (2, [(215, 1130), (228, 1130), (235, 1200), (240, 1270), (215, 1305), (175, 1280), (175, 1255), (205, 1250)]),
    (1, [(240, 1255), (265, 1360), (215, 1358), (210, 1310)]),
    (2, [(245, 1178), (270, 1178), (290, 1215), (320, 1205), (335, 1255), (365, 1230), (390, 1235), (378, 1300), (400, 1365), (280, 1362), (250, 1300)]),
    (0, [(305, 1132), (310, 1165), (290, 1210), (283, 1190), (290, 1155)]),
    (3, [(320, 1180), (330, 1205), (315, 1205)]),
    (NO_DATA, [(310, 1135), (335, 1135), (325, 1205), (310, 1170)]),
    (1, [(620, 945), (720, 945), (725, 990), (730, 1050), (715, 1195), (700, 1150), (695, 1240), (725, 1300), (760, 1245), (780, 1300), (820, 1345), (800, 1358), (765, 1350), (735, 1310), (742, 1378), (428, 1368), (430, 1220), (495, 1215), (530, 1255), (538, 1140), (555, 1190), (575, 1165), (575, 1110), (605, 1095), (620, 1010)]),
    (0, [(485, 1020), (510, 1040), (548, 1085), (545, 1130), (535, 1140), (535, 1255), (495, 1215), (430, 1220), (430, 1100), (460, 1060), (485, 1060)]),
    (1, [(540, 935), (578, 940), (575, 990), (555, 1030), (560, 1100), (545, 1110), (530, 1040), (505, 1020), (515, 990)]),
]


def to_map(points, left, top, xscale, yscale):
    # sheets were read at different scales, bring them to map units
    return [(left + x / xscale, top + y / yscale) for x, y in points]


zones = []
for sheet, left, top, xscale, yscale in [(north_zones, 1100, 90, 1.3635, 2.8),
                                         (middle_zones, 1100, 640, 1.3635, 3.0),
                                         (south_zones, 1100, 1000, 1.3635, 3.0),
                                         (ogden_zones, 1440, 100, 3.0, 3.0),
                                         (salt_lake_zones, 1480, 330, 3.0, 3.0),
                                         (sevier_zones, 1400, 680, 3.0, 3.0)]:
    for band, pts in sheet:
        zones.append((band, to_map(pts, left, top, xscale, yscale)))


def ring_arrays(rings):
    xs, ys = [], []
    for ring in rings:
        xs += [p[0] for p in ring] + [ring[0][0], None]
        ys += [p[1] for p in ring] + [ring[0][1], None]
    return xs, ys


fig = go.Figure()

xs, ys = ring_arrays([state_outline])
fig.add_trace(go.Scatter(x=xs, y=ys, mode="lines", fill="toself", fillcolor="#e8e8e8",
                         line=dict(color="#8c8c8c", width=1.5), hoverinfo="skip", showlegend=False))

xs, ys = ring_arrays([r for b, r in zones if b == NO_DATA])
fig.add_trace(go.Scatter(x=xs, y=ys, mode="lines", fill="toself", fillcolor="#d3d3d3",
                         line=dict(color="#6e6e6e", width=1), hoverinfo="skip", showlegend=False))

# lowest band goes over the next one, small dark zones sit inside the purple ones
for i in [1, 0, 2, 3, 4, 5, 6]:
    xs, ys = ring_arrays([r for b, r in zones if b == i])
    fig.add_trace(go.Scatter(x=xs, y=ys, mode="lines", fill="toself", fillcolor=band_colors[i],
                             line=dict(color="#262626", width=1), name=band_labels[i],
                             hoverinfo="name", showlegend=False))

# colorbar with even steps for uneven bands
n = len(band_colors)
scale = []
for i, color in enumerate(band_colors):
    scale += [[i / n, color], [(i + 1) / n, color]]
fig.add_trace(go.Scatter(
    x=[1700, 1700], y=[800, 800], mode="markers", hoverinfo="skip", showlegend=False,
    marker=dict(size=1, opacity=0, color=[0, n], cmin=0, cmax=n, colorscale=scale,
                colorbar=dict(x=2848 / 3200, xanchor="left", y=1 - 240 / 1600, yanchor="top",
                              xpad=0, ypad=0, thickness=45, thicknessmode="pixels",
                              len=1120, lenmode="pixels", outlinecolor="black", outlinewidth=2.5,
                              tickmode="array", tickvals=list(range(n + 1)), ticktext=band_labels,
                              ticks="outside", ticklen=11, tickwidth=2, tickcolor="black",
                              tickfont=dict(family="DejaVu Sans", size=28, color="black"))),
))

fig.update_layout(
    width=3200, height=1600, autosize=False,
    margin=dict(l=0, r=0, t=0, b=0),
    paper_bgcolor="white", plot_bgcolor="white",
    xaxis=dict(range=[0, 3200], visible=False, domain=[0, 1]),
    yaxis=dict(range=[1600, 0], visible=False, domain=[0, 1]),
    title=dict(text=title_text, x=1599 / 3200, xanchor="center", y=1 - 59 / 1600, yanchor="middle",
               font=dict(family="DejaVu Sans", size=44.5, color="black", weight="bold")),
    annotations=[
        dict(text=credit_text, x=2944, y=1488, xref="x", yref="y", xanchor="right", yanchor="middle",
             showarrow=False, font=dict(family="DejaVu Sans", size=28, color="#a8a8a8")),
        dict(text=source_text, x=2944, y=1535, xref="x", yref="y", xanchor="right", yanchor="middle",
             showarrow=False, font=dict(family="DejaVu Sans", size=28, color="#a8a8a8")),
    ],
)

fig.write_html("out.html", post_script="document.body.style.margin='0';")
